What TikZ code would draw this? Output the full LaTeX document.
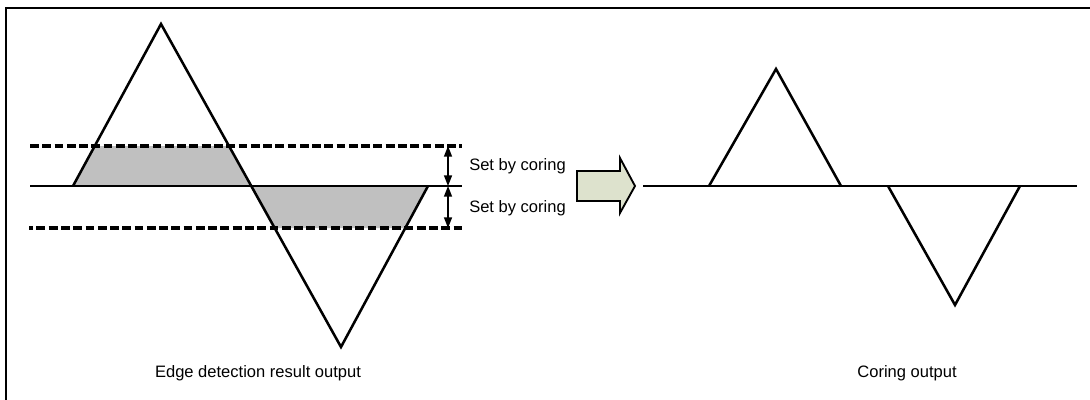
\documentclass[tikz,border=0pt]{standalone}
\usepackage{fontspec}
\setmainfont{Liberation Sans}
\usetikzlibrary{arrows.meta}
\definecolor{arrowfill}{RGB}{221,226,205}
\definecolor{shadegray}{RGB}{192,192,192}
\begin{document}
\begin{tikzpicture}[x=0.75pt,y=-0.75pt,
  thick line/.style={line width=1.9pt, line join=miter},
  dashline/.style={line width=2.3pt, dash pattern=on 6.6pt off 2.6pt},
  dimline/.style={line width=1.1pt, {Triangle[length=8pt,width=6pt]}-{Triangle[length=8pt,width=6pt]}},
  lbl/.style={font=\fontsize{12.4}{14}\selectfont, inner sep=0pt}]
\useasboundingbox (0,0) rectangle (1090,400);
% frame (left and top edges visible)
\draw[line width=1.9pt] (6,402) -- (6,8) -- (1092,8);

% ---- left graph ----
\coordinate (A0) at (73,186);
\coordinate (A1) at (161,24);
\coordinate (A2) at (250,186);
\coordinate (A3) at (341,347);
\coordinate (A4) at (428,186);
% shaded areas
\fill[shadegray] (95,146) -- (228,146) -- (A2) -- (A0) -- cycle;
\fill[shadegray] (A2) -- (428,186) -- (405,228) -- (273,228) -- cycle;
% baseline and dashed lines
\draw[thick line] (30,186) -- (462,186);
\draw[dashline] (30,146) -- (462,146);
\draw[dashline, dash phase=3.6pt] (29,228) -- (462,228);
% waveform
\draw[thick line] (A0) -- (A1) -- (A3) -- (A4);
% dimension arrows
\coordinate (D0) at (448,146);
\coordinate (D1) at (448,186);
\coordinate (D2) at (448,228);
\draw[dimline] (D0) -- (D1);
\draw[dimline] (D1) -- (D2);
\node[lbl, anchor=west] (s1) at (469,166) {Set by coring};
\node[lbl, anchor=west] (s2) at (469,208) {Set by coring};

% ---- block arrow ----
\draw[line width=1.4pt, fill=arrowfill, line join=miter]
  (577,171) -- (620,171) -- (620,158) -- (635,186) -- (620,213) -- (620,201) -- (577,201) -- cycle;

% ---- right graph ----
\draw[thick line] (643,186) -- (1077,186);
\coordinate (B0) at (709,186);
\coordinate (B1) at (776,69);
\coordinate (B2) at (841,186);
\coordinate (C0) at (888,186);
\coordinate (C1) at (955,305);
\coordinate (C2) at (1020,186);
\draw[thick line] (B0) -- (B1) -- (B2);
\draw[thick line] (C0) -- (C1) -- (C2);

% ---- captions ----
\node[lbl] (cap1) at (258,373) {Edge detection result output};
\node[lbl] (cap2) at (907,373) {Coring output};
\end{tikzpicture}
\end{document}
